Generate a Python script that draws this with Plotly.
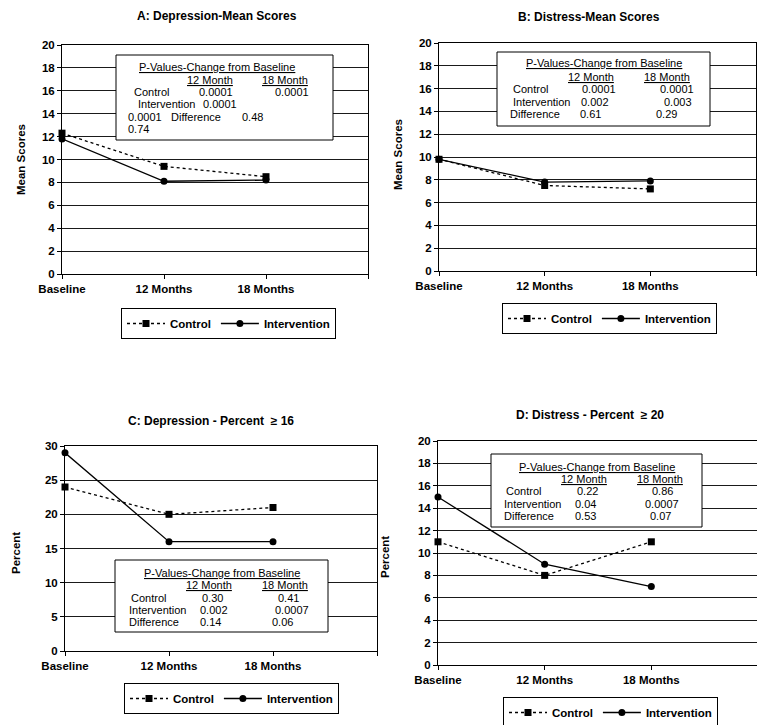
import plotly.graph_objects as go

# The page places the figure 8 px in from the top-left corner (body margin),
# so the figure is drawn 8 px smaller and all layout pixels are shifted by 8.
OFF = 8
W, H = 765 - OFF, 725 - OFF
FONT = "Liberation Sans, Arial, sans-serif"

# ---------------- data ----------------
categories = ["Baseline", "12 Months", "18 Months"]

a_control = [12.3, 9.4, 8.5]
a_intervention = [11.8, 8.1, 8.2]
b_control = [9.8, 7.5, 7.2]
b_intervention = [9.8, 7.8, 7.9]
c_control = [24, 20, 21]
c_intervention = [29, 16, 16]
d_control = [11, 8, 11]
d_intervention = [15, 9, 7]

panel_titles = [
    "A: Depression-Mean Scores",
    "B: Distress-Mean Scores",
    "C: Depression - Percent  \u2265 16",
    "D: Distress - Percent  \u2265 20",
]
y_titles = ["Mean Scores", "Mean Scores", "Percent", "Percent"]
y_max = [20, 20, 30, 20]
y_step = [2, 2, 5, 2]

pval_header = "P-Values-Change from Baseline"
pval_columns = ["12 Month", "18 Month"]
a_pvalue_rows = [["Control", "0.0001", "0.0001"],
                 ["Intervention", "0.0001"],
                 ["0.0001", "Difference", "0.48"],
                 ["0.74"]]
b_pvalue_rows = [["Control", "0.0001", "0.0001"],
                 ["Intervention", "0.002", "0.003"],
                 ["Difference", "0.61", "0.29"]]
c_pvalue_rows = [["Control", "0.30", "0.41"],
                 ["Intervention", "0.002", "0.0007"],
                 ["Difference", "0.14", "0.06"]]
d_pvalue_rows = [["Control", "0.22", "0.86"],
                 ["Intervention", "0.04", "0.0007"],
                 ["Difference", "0.53", "0.07"]]

series_names = ["Control", "Intervention"]

# ---------------- layout geometry (screen pixels) ----------------
geom = [
    dict(plot=(62, 45, 368, 274), title=(217, 16), ylab=(21, 160), legend=(121, 308),
         box=(116, 55, 333, 140), head=(217, 67), colhead_y=80, colhead_x=(209.5, 284.5),
         row_y=[92, 104, 117, 129], row_x=[[132, 197, 273], [136, 201], [126, 169, 240], [126]]),
    dict(plot=(439, 43, 756, 271), title=(589, 17), ylab=(398, 155), legend=(502, 303),
         box=(497, 52, 710, 126), head=(604, 63), colhead_y=77, colhead_x=(590.5, 666.5),
         row_y=[89, 102, 114], row_x=[[511, 580, 658], [511, 579, 662], [508, 578, 654]]),
    dict(plot=(65, 446, 377, 651), title=(211, 421), ylab=(16, 553), legend=(124, 683),
         box=(115, 560, 328, 632), head=(222, 573), colhead_y=585, colhead_x=(208.5, 284.5),
         row_y=[598, 610, 622], row_x=[[129, 200, 276], [127, 198, 273], [127, 198, 270]]),
    dict(plot=(438, 441, 758, 665), title=(590, 415), ylab=(385, 557), legend=(503, 697),
         box=(491, 454, 702, 527), head=(597, 467), colhead_y=479, colhead_x=(583.5, 659.5),
         row_y=[491, 504, 516], row_x=[[504, 575, 650], [502, 573, 643], [502, 573, 648]]),
]


def px(x):
    return (x - OFF) / W


def py(y):
    return 1 - (y - OFF) / H


controls = [a_control, b_control, c_control, d_control]
interventions = [a_intervention, b_intervention, c_intervention, d_intervention]
pvalue_rows = [a_pvalue_rows, b_pvalue_rows, c_pvalue_rows, d_pvalue_rows]

fig = go.Figure()
layout = dict(
    width=W, height=H, autosize=False,
    margin=dict(l=0, r=0, t=0, b=0, pad=0, autoexpand=False),
    paper_bgcolor="white", plot_bgcolor="white",
    font=dict(family=FONT, size=11, color="black"),
    annotations=[], shapes=[],
)

xpos = list(range(len(categories)))
TICKFONT = dict(family=FONT, size=11.5, color="black", weight="bold")

for i in range(4):
    g = geom[i]
    sfx = "" if i == 0 else str(i + 1)
    xa, ya = "x" + sfx, "y" + sfx
    leg = "legend" + sfx
    x0, y0, x1, y1 = g["plot"]

    fig.add_trace(go.Scatter(
        x=xpos, y=interventions[i], name=series_names[1], xaxis=xa, yaxis=ya,
        mode="lines+markers", legend=leg, legendrank=2, cliponaxis=False,
        line=dict(color="black", width=1.3),
        marker=dict(symbol="circle", size=7, color="black"),
    ))
    fig.add_trace(go.Scatter(
        x=xpos, y=controls[i], name=series_names[0], xaxis=xa, yaxis=ya,
        mode="lines+markers", legend=leg, legendrank=1, cliponaxis=False,
        line=dict(color="black", width=1.3, dash="dot"),
        marker=dict(symbol="square", size=7, color="black"),
    ))

    layout["xaxis" + sfx] = dict(
        domain=[px(x0), px(x1)], anchor=ya, range=[0, len(categories)],
        tickmode="array", tickvals=list(range(len(categories) + 1)),
        ticktext=categories + [""], ticks="outside", ticklen=4, tickcolor="black",
        showgrid=False, zeroline=False, showline=True, mirror=True,
        linecolor="black", linewidth=1, automargin=False,
        tickfont=TICKFONT, fixedrange=True,
    )
    layout["yaxis" + sfx] = dict(
        domain=[py(y1), py(y0)], anchor=xa, range=[0, y_max[i]],
        tickmode="linear", tick0=0, dtick=y_step[i],
        ticks="outside", ticklen=4, tickcolor="black",
        showgrid=True, gridcolor="#1a1a1a", gridwidth=1,
        zeroline=False, showline=True, mirror=True,
        linecolor="black", linewidth=1, automargin=False,
        tickfont=TICKFONT, fixedrange=True,
    )

    lx, ly = g["legend"]
    layout[leg] = dict(
        x=px(lx), y=py(ly), xanchor="left", yanchor="top",
        orientation="h", bordercolor="black", borderwidth=1, bgcolor="white",
        font=dict(family=FONT, size=11.5, color="black", weight="bold"),
        itemwidth=38, tracegroupgap=0,
    )

    # panel title
    tx, ty = g["title"]
    layout["annotations"].append(dict(
        text=panel_titles[i], x=px(tx), y=py(ty), xref="paper", yref="paper",
        xanchor="center", yanchor="middle", showarrow=False,
        font=dict(family=FONT, size=12, color="black", weight="bold"),
    ))
    # y-axis title
    yx, yy = g["ylab"]
    layout["annotations"].append(dict(
        text=y_titles[i], x=px(yx), y=py(yy), xref="paper", yref="paper",
        xanchor="center", yanchor="middle", showarrow=False, textangle=-90,
        font=dict(family=FONT, size=11.5, color="black", weight="bold"),
    ))

    # p-value box
    bx0, by0, bx1, by1 = g["box"]
    layout["shapes"].append(dict(
        type="rect", xref="paper", yref="paper",
        x0=px(bx0), x1=px(bx1), y0=py(by1), y1=py(by0),
        line=dict(color="black", width=1), fillcolor="white", layer="above",
    ))
    hx, hy = g["head"]
    layout["annotations"].append(dict(
        text="<u>" + pval_header + "</u>", x=px(hx), y=py(hy), xref="paper", yref="paper",
        xanchor="center", yanchor="middle", showarrow=False,
        font=dict(family=FONT, size=11, color="black"),
    ))
    for cx, ctext in zip(g["colhead_x"], pval_columns):
        layout["annotations"].append(dict(
            text="<u>" + ctext + "</u>", x=px(cx), y=py(g["colhead_y"]),
            xref="paper", yref="paper", xanchor="center", yanchor="middle",
            showarrow=False, font=dict(family=FONT, size=11, color="black"),
        ))
    for row, rx_list, ry in zip(pvalue_rows[i], g["row_x"], g["row_y"]):
        for cell, rx in zip(row, rx_list):
            layout["annotations"].append(dict(
                text=cell, x=px(rx), y=py(ry), xref="paper", yref="paper",
                xanchor="left", yanchor="middle", showarrow=False,
                font=dict(family=FONT, size=11, color="black"),
            ))

fig.update_layout(**layout)
fig.write_html("out.html")
